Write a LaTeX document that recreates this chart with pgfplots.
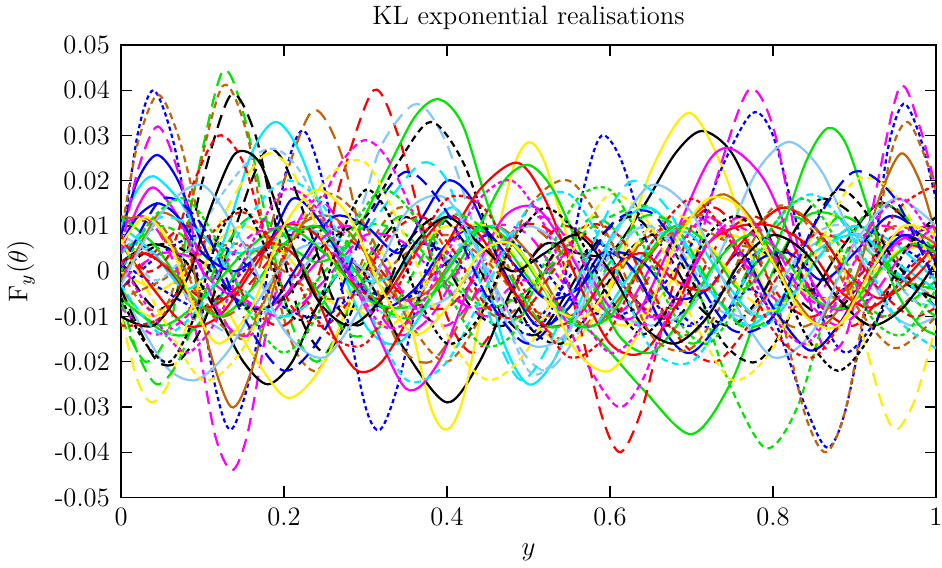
\documentclass[border=0pt]{standalone}
\usepackage{pgfplots}
\pgfplotsset{compat=1.18}
\definecolor{cR}{RGB}{255,0,0}
\definecolor{cG}{RGB}{0,230,0}
\definecolor{cB}{RGB}{0,0,255}
\definecolor{cM}{RGB}{255,0,255}
\definecolor{cC}{RGB}{0,235,255}
\definecolor{cN}{RGB}{192,100,10}
\definecolor{cY}{RGB}{255,238,0}
\definecolor{cK}{RGB}{0,0,0}
\definecolor{cL}{RGB}{135,200,250}
\tikzset{
  S/.style={solid},
  L/.style={dash pattern=on 6pt off 3.5pt},
  M/.style={dash pattern=on 3pt off 2pt},
  D/.style={dash pattern=on 1.9pt off 1.4pt},
}
\begin{document}
\begin{tikzpicture}
\begin{axis}[name=ax,
  width=362pt, height=201pt, scale only axis,
  xmin=0, xmax=1, ymin=-0.05, ymax=0.05,
  scaled y ticks=false, scaled x ticks=false,
  xtick={0,0.2,0.4,0.6,0.8,1},
  xticklabels={0,0.2,0.4,0.6,0.8,1},
  ytick={-0.05,-0.04,-0.03,-0.02,-0.01,0,0.01,0.02,0.03,0.04,0.05},
  yticklabels={-0.05,-0.04,-0.03,-0.02,-0.01,0,0.01,0.02,0.03,0.04,0.05},
  tick align=inside, major tick length=5pt,
  tick style={black, line width=0.5pt},
  axis line style={line width=0.6pt},
  tick label style={font=\fontsize{11.8}{13}\selectfont},
  xticklabel style={yshift=-1pt},
  yticklabel style={xshift=-1.5pt},
  label style={font=\fontsize{11.8}{14}\selectfont},
  xlabel={$y$}, ylabel={$\mathrm{F}_y(\theta)$},
  xlabel style={yshift=-1pt},
  ylabel style={yshift=2pt},
  every axis plot/.append style={smooth, line width=1pt, mark=none},
]
\addplot[cB,D] coordinates {(0,0.004)(0.02,0.030)(0.04,0.040)(0.065,0.028)(0.09,0.003)(0.115,-0.025)(0.135,-0.035)(0.16,-0.022)(0.18,0.000)(0.205,0.024)(0.225,0.031)(0.25,0.018)(0.275,-0.008)(0.30,-0.030)(0.318,-0.035)(0.34,-0.025)(0.37,-0.002)(0.40,0.012)(0.43,0.008)(0.46,-0.004)(0.50,-0.012)(0.54,-0.004)(0.58,0.006)(0.62,0.002)(0.66,-0.008)(0.70,-0.012)(0.74,-0.004)(0.78,0.004)(0.82,0.002)(0.86,-0.006)(0.90,-0.002)(0.94,0.006)(0.97,0.004)(1,0.000)};
\addplot[cN,M] coordinates {(0,0.008)(0.02,0.028)(0.045,0.039)(0.07,0.030)(0.095,0.012)(0.12,-0.008)(0.15,-0.015)(0.18,-0.005)(0.21,0.008)(0.24,0.012)(0.27,0.005)(0.30,-0.005)(0.34,-0.008)(0.38,0.000)(0.42,0.010)(0.46,0.006)(0.50,-0.008)(0.54,-0.015)(0.58,-0.010)(0.62,0.002)(0.66,0.010)(0.70,0.006)(0.74,-0.004)(0.78,-0.010)(0.82,-0.006)(0.86,0.004)(0.90,0.010)(0.94,0.006)(0.97,-0.002)(1,-0.006)};
\addplot[cG,L] coordinates {(0,-0.010)(0.03,-0.020)(0.06,-0.012)(0.09,0.018)(0.124,0.044)(0.15,0.035)(0.18,0.010)(0.21,-0.012)(0.24,-0.020)(0.27,-0.012)(0.30,0.002)(0.34,0.012)(0.38,0.008)(0.42,-0.004)(0.46,-0.012)(0.50,-0.008)(0.54,0.004)(0.58,0.012)(0.62,0.006)(0.66,-0.008)(0.70,-0.016)(0.74,-0.010)(0.78,0.004)(0.82,0.012)(0.86,0.008)(0.90,-0.004)(0.94,-0.010)(1,-0.002)};
\addplot[cN,M] coordinates {(0,0.000)(0.03,-0.008)(0.06,-0.006)(0.09,0.018)(0.125,0.041)(0.155,0.030)(0.18,0.004)(0.21,-0.016)(0.24,-0.022)(0.27,-0.012)(0.30,0.004)(0.34,0.014)(0.38,0.010)(0.42,-0.002)(0.46,-0.010)(0.50,-0.006)(0.54,0.006)(0.58,0.010)(0.62,0.002)(0.66,-0.010)(0.70,-0.014)(0.74,-0.004)(0.78,0.010)(0.82,0.014)(0.86,0.006)(0.90,-0.006)(0.94,-0.010)(1,0.000)};
\addplot[cK,L] coordinates {(0,0.002)(0.04,-0.008)(0.07,-0.004)(0.10,0.020)(0.135,0.039)(0.165,0.030)(0.19,0.010)(0.22,-0.010)(0.25,-0.018)(0.28,-0.010)(0.31,0.004)(0.35,0.012)(0.39,0.004)(0.43,-0.008)(0.47,-0.012)(0.51,-0.002)(0.55,0.008)(0.59,0.006)(0.63,-0.006)(0.67,-0.012)(0.71,-0.004)(0.75,0.006)(0.79,0.004)(0.83,-0.006)(0.87,-0.010)(0.91,-0.002)(0.95,0.008)(1,0.004)};
\addplot[cM,L] coordinates {(0,0.010)(0.03,0.012)(0.06,0.004)(0.09,-0.012)(0.115,-0.036)(0.136,-0.044)(0.155,-0.036)(0.18,-0.012)(0.21,0.008)(0.24,0.016)(0.27,0.010)(0.30,-0.004)(0.34,-0.014)(0.38,-0.010)(0.42,0.002)(0.46,0.010)(0.50,0.008)(0.54,-0.002)(0.58,-0.010)(0.62,-0.008)(0.66,0.004)(0.70,0.012)(0.74,0.008)(0.78,-0.002)(0.82,-0.008)(0.86,-0.004)(0.90,0.006)(0.94,0.010)(1,0.002)};
\addplot[cR,L] coordinates {(0,-0.004)(0.04,0.004)(0.08,0.010)(0.12,0.004)(0.16,-0.008)(0.20,-0.012)(0.24,-0.002)(0.27,0.020)(0.31,0.040)(0.34,0.030)(0.37,0.010)(0.40,-0.010)(0.43,-0.018)(0.46,-0.012)(0.50,0.002)(0.54,0.010)(0.58,0.006)(0.62,-0.004)(0.66,-0.010)(0.70,-0.004)(0.74,0.008)(0.78,0.012)(0.82,0.004)(0.86,-0.008)(0.90,-0.012)(0.94,-0.004)(1,0.006)};
\addplot[cG,S] coordinates {(0,-0.004)(0.04,-0.012)(0.08,-0.014)(0.12,-0.006)(0.16,0.004)(0.20,0.006)(0.24,0.002)(0.28,0.006)(0.32,0.020)(0.36,0.034)(0.39,0.038)(0.42,0.032)(0.46,0.010)(0.52,-0.006)(0.58,-0.014)(0.64,-0.026)(0.70,-0.036)(0.75,-0.024)(0.80,0.000)(0.84,0.012)(0.88,0.012)(0.92,0.004)(0.96,-0.002)(1,-0.004)};
\addplot[cK,S] coordinates {(0,0.002)(0.04,0.006)(0.08,0.002)(0.12,-0.010)(0.15,-0.020)(0.18,-0.025)(0.21,-0.020)(0.24,-0.008)(0.28,0.002)(0.31,-0.004)(0.35,-0.018)(0.40,-0.029)(0.44,-0.020)(0.48,-0.004)(0.52,0.006)(0.56,0.004)(0.60,0.004)(0.64,0.014)(0.68,0.026)(0.713,0.031)(0.75,0.026)(0.79,0.010)(0.82,-0.002)(0.85,-0.004)(0.88,0.004)(0.93,0.015)(0.97,0.010)(1,0.002)};
\addplot[cY,S] coordinates {(0,-0.006)(0.04,-0.010)(0.08,-0.004)(0.12,-0.006)(0.16,-0.018)(0.205,-0.028)(0.25,-0.020)(0.29,-0.002)(0.32,0.004)(0.35,-0.008)(0.38,-0.030)(0.40,-0.035)(0.42,-0.028)(0.45,-0.002)(0.48,0.022)(0.50,0.0285)(0.52,0.024)(0.55,0.006)(0.58,-0.008)(0.62,-0.012)(0.66,-0.006)(0.70,0.004)(0.75,0.008)(0.80,0.002)(0.85,-0.006)(0.90,-0.004)(0.95,0.004)(1,0.006)};
\addplot[cY,S] coordinates {(0,0.000)(0.05,-0.004)(0.10,0.004)(0.15,0.010)(0.20,0.004)(0.25,-0.006)(0.30,-0.008)(0.35,0.002)(0.40,0.010)(0.45,0.004)(0.50,-0.010)(0.55,-0.016)(0.60,-0.004)(0.65,0.022)(0.697,0.035)(0.74,0.022)(0.78,0.000)(0.82,-0.014)(0.86,-0.016)(0.90,-0.008)(0.95,0.004)(1,0.008)};
\addplot[cR,L] coordinates {(0,0.006)(0.05,0.002)(0.10,-0.006)(0.15,-0.004)(0.20,0.006)(0.25,0.010)(0.30,0.004)(0.35,-0.006)(0.40,-0.008)(0.45,0.002)(0.49,0.010)(0.53,0.008)(0.56,-0.010)(0.59,-0.032)(0.613,-0.040)(0.64,-0.030)(0.67,-0.008)(0.70,0.010)(0.73,0.014)(0.77,0.006)(0.81,-0.006)(0.85,-0.010)(0.90,-0.002)(0.95,0.006)(1,0.004)};
\addplot[cB,D] coordinates {(0,-0.004)(0.05,0.004)(0.10,0.008)(0.15,0.002)(0.20,-0.008)(0.25,-0.010)(0.30,-0.002)(0.35,0.006)(0.40,0.004)(0.45,-0.006)(0.50,-0.014)(0.54,-0.004)(0.57,0.020)(0.59,0.030)(0.615,0.024)(0.65,0.004)(0.69,-0.010)(0.73,-0.012)(0.77,-0.004)(0.80,-0.010)(0.84,-0.030)(0.867,-0.039)(0.89,-0.030)(0.92,-0.002)(0.94,0.026)(0.96,0.037)(0.98,0.030)(1,0.016)};
\addplot[cB,D] coordinates {(0,0.002)(0.05,-0.004)(0.10,-0.008)(0.15,0.000)(0.20,0.008)(0.25,0.004)(0.30,-0.004)(0.35,-0.006)(0.40,0.002)(0.45,0.008)(0.50,0.004)(0.55,-0.006)(0.60,-0.010)(0.65,-0.006)(0.70,0.006)(0.74,0.024)(0.775,0.035)(0.80,0.030)(0.83,0.010)(0.86,-0.010)(0.89,-0.018)(0.93,-0.010)(0.97,0.002)(1,0.006)};
\addplot[cM,L] coordinates {(0,-0.002)(0.05,0.004)(0.10,0.002)(0.15,-0.006)(0.20,-0.010)(0.25,-0.002)(0.30,0.008)(0.35,0.006)(0.40,-0.004)(0.45,-0.010)(0.50,-0.004)(0.55,0.004)(0.60,0.000)(0.65,-0.010)(0.69,-0.006)(0.73,0.020)(0.77,0.040)(0.80,0.032)(0.83,0.006)(0.86,-0.016)(0.89,-0.014)(0.92,0.012)(0.955,0.0405)(0.98,0.032)(1,0.018)};
\addplot[cG,M] coordinates {(0,0.004)(0.05,0.010)(0.10,0.004)(0.15,-0.008)(0.20,-0.010)(0.25,0.000)(0.30,0.010)(0.35,0.008)(0.40,-0.002)(0.45,-0.008)(0.50,-0.004)(0.55,0.006)(0.60,0.012)(0.65,0.014)(0.70,0.000)(0.74,-0.022)(0.79,-0.039)(0.83,-0.030)(0.87,-0.006)(0.91,0.012)(0.95,0.014)(1,0.004)};
\addplot[cN,M] coordinates {(0,-0.006)(0.05,-0.002)(0.10,0.004)(0.15,0.006)(0.20,0.000)(0.25,-0.006)(0.30,-0.004)(0.35,0.004)(0.40,0.008)(0.45,0.002)(0.50,-0.008)(0.55,-0.010)(0.60,-0.002)(0.65,0.008)(0.70,0.010)(0.75,0.006)(0.78,0.004)(0.81,-0.010)(0.84,-0.032)(0.865,-0.040)(0.89,-0.030)(0.92,0.000)(0.945,0.026)(0.965,0.033)(0.985,0.026)(1,0.018)};
\addplot[cN,S] coordinates {(0,-0.002)(0.03,0.008)(0.05,0.013)(0.08,0.008)(0.105,-0.015)(0.135,-0.030)(0.16,-0.022)(0.19,-0.002)(0.22,0.010)(0.26,0.012)(0.30,0.004)(0.34,-0.006)(0.38,-0.004)(0.42,0.006)(0.46,0.010)(0.50,0.004)(0.54,-0.008)(0.58,-0.012)(0.62,-0.004)(0.66,0.006)(0.70,0.012)(0.74,0.017)(0.78,0.010)(0.82,-0.004)(0.86,-0.012)(0.90,-0.002)(0.93,0.016)(0.957,0.026)(0.98,0.020)(1,0.008)};
\addplot[cN,L] coordinates {(0,0.012)(0.04,0.010)(0.08,0.000)(0.12,-0.010)(0.16,-0.004)(0.20,0.020)(0.236,0.0356)(0.27,0.026)(0.30,0.004)(0.34,-0.016)(0.38,-0.020)(0.42,-0.010)(0.46,0.004)(0.50,0.010)(0.54,0.004)(0.58,-0.006)(0.62,-0.008)(0.66,0.002)(0.70,0.012)(0.74,0.010)(0.78,-0.002)(0.82,-0.012)(0.86,-0.010)(0.90,0.002)(0.95,0.010)(1,0.006)};
\addplot[cL,L] coordinates {(0,0.008)(0.05,0.002)(0.10,-0.010)(0.15,-0.014)(0.20,-0.004)(0.25,0.006)(0.29,0.012)(0.32,0.028)(0.363,0.037)(0.40,0.028)(0.44,0.006)(0.48,-0.014)(0.52,-0.022)(0.56,-0.014)(0.60,0.002)(0.64,0.010)(0.68,0.006)(0.72,-0.004)(0.76,-0.010)(0.80,-0.004)(0.85,0.006)(0.90,0.008)(0.95,0.000)(1,-0.006)};
\addplot[cL,S] coordinates {(0,-0.004)(0.03,-0.014)(0.06,-0.022)(0.093,-0.024)(0.13,-0.018)(0.17,-0.006)(0.21,0.004)(0.25,0.006)(0.30,0.000)(0.35,-0.008)(0.40,-0.006)(0.45,0.004)(0.50,0.010)(0.55,0.004)(0.60,-0.008)(0.65,-0.012)(0.70,-0.008)(0.74,0.006)(0.78,0.022)(0.82,0.0286)(0.86,0.022)(0.90,0.006)(0.94,-0.008)(0.97,-0.012)(1,-0.010)};
\addplot[cC,S] coordinates {(0,0.010)(0.04,0.004)(0.08,-0.004)(0.12,0.004)(0.16,0.026)(0.19,0.033)(0.22,0.026)(0.26,0.006)(0.30,-0.012)(0.34,-0.016)(0.38,-0.006)(0.42,0.006)(0.46,0.010)(0.50,0.002)(0.54,-0.010)(0.58,-0.012)(0.62,-0.002)(0.66,0.008)(0.70,0.008)(0.74,-0.002)(0.78,-0.010)(0.82,-0.006)(0.86,0.004)(0.90,0.010)(0.95,0.006)(1,-0.002)};
\addplot[cC,S] coordinates {(0,0.010)(0.02,0.018)(0.04,0.021)(0.07,0.016)(0.10,0.008)(0.14,0.004)(0.18,0.006)(0.22,0.010)(0.26,0.006)(0.30,-0.002)(0.34,0.000)(0.38,0.010)(0.41,0.014)(0.44,0.004)(0.47,-0.016)(0.50,-0.025)(0.53,-0.020)(0.57,-0.004)(0.61,0.010)(0.65,0.014)(0.69,0.006)(0.73,-0.006)(0.77,-0.012)(0.81,-0.006)(0.85,0.004)(0.90,0.008)(0.95,0.002)(1,-0.004)};
\addplot[cM,S] coordinates {(0,0.004)(0.02,0.014)(0.04,0.0185)(0.07,0.012)(0.10,0.000)(0.14,-0.006)(0.18,-0.008)(0.22,-0.002)(0.26,0.004)(0.30,-0.008)(0.35,-0.026)(0.39,-0.020)(0.43,-0.002)(0.47,0.012)(0.51,0.014)(0.55,0.004)(0.59,-0.008)(0.63,-0.010)(0.67,0.004)(0.72,0.024)(0.75,0.027)(0.79,0.020)(0.83,0.004)(0.87,-0.008)(0.91,-0.006)(0.95,0.006)(1,0.010)};
\addplot[cB,S] coordinates {(0,0.008)(0.02,0.020)(0.044,0.0257)(0.07,0.020)(0.10,0.006)(0.14,-0.006)(0.18,-0.008)(0.22,0.002)(0.26,0.012)(0.30,0.010)(0.34,0.004)(0.37,0.012)(0.40,0.020)(0.43,0.016)(0.47,0.000)(0.51,-0.012)(0.55,-0.008)(0.59,0.004)(0.63,0.000)(0.67,-0.014)(0.70,-0.018)(0.74,-0.010)(0.78,0.002)(0.82,0.004)(0.86,-0.002)(0.90,0.004)(0.94,0.012)(0.97,0.010)(1,0.002)};
\addplot[cB,S] coordinates {(0,0.006)(0.02,0.012)(0.045,0.015)(0.07,0.012)(0.10,0.004)(0.14,0.000)(0.18,0.006)(0.21,0.016)(0.24,0.012)(0.28,0.000)(0.32,-0.008)(0.36,-0.004)(0.40,0.006)(0.44,0.010)(0.48,0.002)(0.52,-0.006)(0.56,-0.004)(0.60,0.004)(0.64,0.002)(0.68,-0.006)(0.72,-0.004)(0.76,0.004)(0.80,-0.008)(0.845,-0.0175)(0.88,-0.012)(0.92,0.000)(0.96,0.008)(1,0.004)};
\addplot[cK,L] coordinates {(0,-0.004)(0.02,-0.012)(0.045,-0.020)(0.07,-0.020)(0.10,-0.012)(0.13,0.004)(0.16,0.020)(0.18,0.027)(0.20,0.024)(0.23,0.010)(0.26,-0.006)(0.29,-0.012)(0.32,-0.006)(0.35,0.006)(0.39,0.012)(0.43,0.004)(0.47,-0.010)(0.51,-0.014)(0.55,-0.004)(0.59,0.008)(0.63,0.012)(0.67,0.004)(0.71,-0.008)(0.75,-0.012)(0.79,-0.004)(0.83,0.010)(0.86,0.016)(0.90,0.012)(0.94,0.000)(1,-0.006)};
\addplot[cK,M] coordinates {(0,0.000)(0.05,0.006)(0.10,0.002)(0.15,-0.008)(0.20,-0.006)(0.25,0.006)(0.30,0.012)(0.34,0.024)(0.38,0.033)(0.42,0.024)(0.46,0.004)(0.50,-0.012)(0.54,-0.016)(0.58,-0.008)(0.62,0.004)(0.66,0.008)(0.70,-0.002)(0.74,-0.016)(0.78,-0.020)(0.82,-0.010)(0.85,0.010)(0.88,0.018)(0.91,0.014)(0.95,0.002)(1,-0.008)};
\addplot[cR,S] coordinates {(0,0.002)(0.03,0.004)(0.06,0.000)(0.10,-0.008)(0.14,-0.004)(0.18,0.006)(0.22,0.002)(0.26,-0.014)(0.29,-0.022)(0.32,-0.020)(0.36,-0.008)(0.40,0.006)(0.44,0.018)(0.486,0.024)(0.52,0.016)(0.56,-0.002)(0.60,-0.016)(0.64,-0.018)(0.68,-0.008)(0.72,0.006)(0.76,0.010)(0.80,0.010)(0.84,0.006)(0.88,-0.004)(0.92,-0.008)(0.96,-0.002)(1,0.006)};
\addplot[cR,S] coordinates {(0,0.006)(0.04,-0.004)(0.08,-0.012)(0.12,-0.010)(0.16,0.000)(0.20,0.010)(0.24,0.008)(0.28,-0.002)(0.32,-0.006)(0.36,0.004)(0.40,0.012)(0.44,0.008)(0.48,-0.004)(0.52,-0.012)(0.56,-0.010)(0.60,0.000)(0.64,0.004)(0.68,-0.002)(0.72,-0.004)(0.76,0.006)(0.81,0.014)(0.85,0.010)(0.89,0.000)(0.93,-0.006)(0.97,-0.002)(1,0.004)};
\addplot[cG,S] coordinates {(0,-0.006)(0.05,-0.012)(0.10,-0.006)(0.15,0.004)(0.20,0.010)(0.25,0.004)(0.30,-0.006)(0.35,-0.008)(0.40,-0.002)(0.44,0.010)(0.47,0.020)(0.50,0.0235)(0.53,0.018)(0.57,0.002)(0.61,-0.014)(0.65,-0.018)(0.69,-0.010)(0.73,0.002)(0.77,0.008)(0.81,0.004)(0.85,-0.006)(0.89,-0.008)(0.93,0.000)(0.97,0.006)(1,0.004)};
\addplot[cG,S] coordinates {(0,0.012)(0.04,0.006)(0.08,-0.004)(0.12,-0.010)(0.16,-0.004)(0.20,0.006)(0.24,0.010)(0.28,0.002)(0.32,-0.008)(0.36,-0.010)(0.40,0.000)(0.44,0.010)(0.48,0.006)(0.52,-0.004)(0.56,-0.012)(0.60,-0.010)(0.64,0.002)(0.68,0.010)(0.72,0.006)(0.76,-0.004)(0.80,0.004)(0.84,0.024)(0.867,0.0316)(0.89,0.028)(0.92,0.012)(0.95,-0.004)(0.98,-0.012)(1,-0.014)};
\addplot[cC,L] coordinates {(0,0.004)(0.05,0.012)(0.10,0.008)(0.15,-0.004)(0.20,-0.010)(0.25,-0.004)(0.29,0.006)(0.33,0.016)(0.37,0.024)(0.40,0.020)(0.43,0.004)(0.46,-0.014)(0.49,-0.024)(0.52,-0.018)(0.56,-0.002)(0.60,0.014)(0.63,0.020)(0.67,0.014)(0.71,0.000)(0.75,-0.010)(0.79,-0.012)(0.83,-0.004)(0.87,0.006)(0.91,0.008)(0.95,0.000)(1,-0.008)};
\addplot[cM,M] coordinates {(0,-0.008)(0.04,-0.014)(0.08,-0.010)(0.12,0.000)(0.16,0.008)(0.20,0.010)(0.24,0.014)(0.27,0.024)(0.30,0.029)(0.33,0.024)(0.37,0.008)(0.41,-0.006)(0.45,-0.008)(0.49,-0.002)(0.53,-0.006)(0.57,-0.020)(0.61,-0.030)(0.64,-0.024)(0.67,-0.010)(0.71,0.004)(0.75,0.010)(0.79,0.006)(0.83,-0.004)(0.87,-0.008)(0.91,-0.002)(0.95,0.008)(1,0.010)};
\addplot[cY,L] coordinates {(0,-0.010)(0.02,-0.024)(0.038,-0.029)(0.06,-0.024)(0.09,-0.006)(0.12,0.010)(0.15,0.020)(0.18,0.026)(0.21,0.022)(0.25,0.006)(0.29,-0.008)(0.33,-0.012)(0.37,-0.004)(0.41,0.008)(0.45,0.010)(0.49,0.002)(0.53,-0.008)(0.57,-0.010)(0.61,0.000)(0.65,0.010)(0.69,0.012)(0.73,0.004)(0.77,-0.006)(0.81,-0.008)(0.85,0.008)(0.88,0.004)(0.91,-0.014)(0.935,-0.030)(0.952,-0.035)(0.975,-0.028)(1,-0.012)};
\addplot[cG,L] coordinates {(0,-0.006)(0.02,-0.018)(0.044,-0.025)(0.07,-0.020)(0.10,-0.006)(0.13,0.006)(0.16,0.012)(0.20,0.008)(0.24,-0.004)(0.28,-0.014)(0.32,-0.012)(0.36,0.000)(0.40,0.012)(0.44,0.010)(0.48,-0.002)(0.52,-0.012)(0.56,-0.010)(0.60,0.002)(0.64,0.012)(0.68,0.010)(0.72,-0.002)(0.76,-0.012)(0.80,-0.010)(0.84,0.002)(0.88,0.012)(0.92,0.008)(0.96,-0.004)(1,-0.010)};
\addplot[cL,M] coordinates {(0,0.008)(0.04,-0.002)(0.08,0.004)(0.12,0.016)(0.16,0.025)(0.19,0.027)(0.22,0.022)(0.26,0.008)(0.30,-0.006)(0.34,-0.010)(0.38,-0.002)(0.42,0.006)(0.46,-0.006)(0.50,-0.022)(0.53,-0.020)(0.57,-0.006)(0.61,0.006)(0.65,0.010)(0.69,0.002)(0.73,-0.008)(0.77,-0.010)(0.81,-0.002)(0.85,0.008)(0.89,0.010)(0.93,0.002)(0.97,-0.006)(1,-0.008)};
\addplot[cR,M] coordinates {(0,0.008)(0.03,0.000)(0.06,0.004)(0.09,0.020)(0.12,0.030)(0.15,0.024)(0.18,0.006)(0.21,-0.008)(0.25,-0.012)(0.29,-0.004)(0.33,0.008)(0.37,0.012)(0.41,0.004)(0.45,-0.008)(0.49,-0.010)(0.53,0.000)(0.57,0.010)(0.61,0.008)(0.65,-0.004)(0.69,-0.016)(0.73,-0.020)(0.77,-0.012)(0.81,0.000)(0.85,0.008)(0.89,0.006)(0.93,-0.004)(0.97,-0.010)(1,-0.008)};
\addplot[cK,S] coordinates {(0,-0.010)(0.04,-0.012)(0.08,-0.002)(0.11,0.014)(0.14,0.026)(0.17,0.024)(0.20,0.010)(0.24,-0.006)(0.28,-0.012)(0.32,-0.006)(0.36,0.006)(0.40,0.012)(0.44,0.006)(0.48,0.000)(0.52,0.004)(0.56,0.008)(0.60,0.000)(0.64,-0.012)(0.68,-0.016)(0.72,-0.010)(0.76,0.002)(0.80,0.008)(0.84,0.004)(0.88,-0.006)(0.92,-0.012)(0.96,-0.008)(1,0.002)};
\addplot[cM,L] coordinates {(0,0.004)(0.02,0.022)(0.045,0.032)(0.07,0.022)(0.10,0.000)(0.13,-0.012)(0.16,-0.014)(0.20,-0.006)(0.24,0.006)(0.28,0.010)(0.32,0.002)(0.36,-0.008)(0.40,-0.012)(0.44,-0.004)(0.48,0.008)(0.52,0.012)(0.56,0.004)(0.60,-0.008)(0.64,-0.012)(0.68,-0.006)(0.72,0.006)(0.76,0.012)(0.80,0.006)(0.84,-0.006)(0.88,-0.012)(0.92,-0.006)(0.96,0.004)(1,0.010)};
\addplot[cY,M] coordinates {(0,0.007)(0.05,-0.010)(0.10,-0.024)(0.15,-0.017)(0.20,0.003)(0.25,0.020)(0.30,0.024)(0.35,0.007)(0.40,-0.014)(0.45,-0.024)(0.50,-0.017)(0.55,0.003)(0.60,0.017)(0.65,0.010)(0.70,-0.010)(0.75,-0.024)(0.80,-0.017)(0.85,0.003)(0.90,0.020)(0.95,0.017)(1,0.000)};
\addplot[cL,S] coordinates {(0,-0.003)(0.05,0.013)(0.10,0.019)(0.15,0.006)(0.20,-0.013)(0.25,-0.019)(0.30,-0.006)(0.35,0.013)(0.40,0.016)(0.45,0.000)(0.50,-0.016)(0.55,-0.013)(0.60,0.006)(0.65,0.019)(0.70,0.013)(0.75,-0.006)(0.80,-0.019)(0.85,-0.013)(0.90,0.006)(0.95,0.016)(1,0.010)};
\addplot[cN,M] coordinates {(0,0.012)(0.05,0.010)(0.10,-0.007)(0.15,-0.014)(0.20,0.003)(0.25,0.017)(0.30,0.010)(0.35,-0.010)(0.40,-0.020)(0.45,-0.007)(0.50,0.014)(0.55,0.020)(0.60,0.007)(0.65,-0.014)(0.70,-0.017)(0.75,-0.003)(0.80,0.014)(0.85,0.010)(0.90,-0.007)(0.95,-0.017)(1,-0.010)};
\addplot[cC,M] coordinates {(0,-0.003)(0.05,-0.014)(0.10,-0.007)(0.15,0.010)(0.20,0.020)(0.25,0.014)(0.30,-0.007)(0.35,-0.024)(0.40,-0.020)(0.45,-0.003)(0.50,0.014)(0.55,0.017)(0.60,0.003)(0.65,-0.017)(0.70,-0.020)(0.75,-0.007)(0.80,0.010)(0.85,0.017)(0.90,0.007)(0.95,-0.010)(1,-0.017)};
\addplot[cR,D] coordinates {(0,-0.012)(0.05,-0.010)(0.10,0.006)(0.15,0.013)(0.20,0.003)(0.25,-0.013)(0.30,-0.016)(0.35,0.000)(0.40,0.016)(0.45,0.013)(0.50,-0.006)(0.55,-0.019)(0.60,-0.013)(0.65,0.006)(0.70,0.016)(0.75,0.006)(0.80,-0.013)(0.85,-0.019)(0.90,-0.006)(0.95,0.013)(1,0.019)};
\addplot[cB,L] coordinates {(0,0.000)(0.05,0.016)(0.10,0.010)(0.15,-0.010)(0.20,-0.022)(0.25,-0.013)(0.30,0.010)(0.35,0.022)(0.40,0.013)(0.45,-0.006)(0.50,-0.016)(0.55,-0.006)(0.60,0.010)(0.65,0.013)(0.70,0.000)(0.75,-0.013)(0.80,-0.010)(0.85,0.010)(0.90,0.022)(0.95,0.016)(1,-0.003)};
\addplot[cK,D] coordinates {(0,-0.006)(0.03,-0.016)(0.06,-0.020)(0.09,-0.010)(0.12,0.008)(0.15,0.014)(0.18,0.004)(0.21,-0.010)(0.24,-0.008)(0.27,0.008)(0.30,0.018)(0.33,0.012)(0.36,-0.004)(0.40,-0.016)(0.44,-0.010)(0.48,0.006)(0.52,0.014)(0.56,0.008)(0.60,-0.006)(0.64,-0.014)(0.68,-0.006)(0.72,0.008)(0.76,0.012)(0.80,0.002)(0.84,-0.014)(0.88,-0.022)(0.92,-0.014)(0.96,0.004)(1,0.012)};
\addplot[cY,S] coordinates {(0,0.006)(0.03,0.012)(0.06,0.006)(0.09,-0.008)(0.12,-0.016)(0.16,-0.008)(0.20,0.010)(0.24,0.018)(0.28,0.012)(0.32,-0.004)(0.36,-0.014)(0.40,-0.008)(0.44,0.004)(0.48,0.006)(0.52,-0.004)(0.56,-0.018)(0.60,-0.022)(0.64,-0.012)(0.68,0.006)(0.72,0.016)(0.76,0.014)(0.80,0.002)(0.84,-0.010)(0.88,-0.012)(0.92,0.000)(0.96,0.010)(1,0.008)};
\addplot[cM,D] coordinates {(0,0.002)(0.04,-0.010)(0.08,-0.018)(0.12,-0.010)(0.16,0.006)(0.20,0.018)(0.24,0.014)(0.28,0.000)(0.32,-0.012)(0.36,-0.010)(0.40,0.004)(0.44,0.016)(0.48,0.020)(0.52,0.010)(0.56,-0.008)(0.60,-0.018)(0.64,-0.012)(0.68,0.004)(0.72,0.012)(0.76,0.004)(0.80,-0.010)(0.84,-0.016)(0.88,-0.006)(0.92,0.010)(0.96,0.016)(1,0.006)};
\addplot[cG,D] coordinates {(0,0.000)(0.04,0.012)(0.08,0.016)(0.12,0.006)(0.16,-0.010)(0.20,-0.018)(0.24,-0.010)(0.28,0.008)(0.32,0.018)(0.36,0.012)(0.40,-0.004)(0.44,-0.016)(0.48,-0.014)(0.52,0.002)(0.56,0.016)(0.60,0.018)(0.64,0.006)(0.68,-0.010)(0.72,-0.016)(0.76,-0.006)(0.80,0.010)(0.84,0.016)(0.88,0.006)(0.92,-0.010)(0.96,-0.014)(1,-0.004)};
\end{axis}
\node[anchor=base, font=\fontsize{11.8}{14}\selectfont] at ([yshift=9pt]ax.north) {KL exponential realisations};
\pgfresetboundingbox
\path (ax.south west) ++(-53.8pt,-31.1pt) coordinate (bl);
\path (ax.north east) ++(2.7pt,20pt) coordinate (tr);
\useasboundingbox (bl) rectangle (tr);
\end{tikzpicture}
\end{document}
